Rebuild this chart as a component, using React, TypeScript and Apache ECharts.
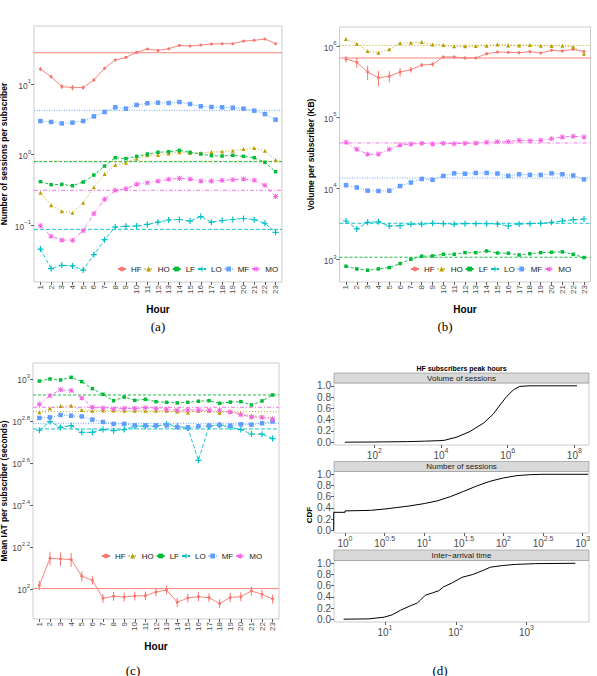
import React, { useEffect, useRef } from "react";
import * as echarts from "echarts";

// ---------- data ----------
const hours = [1, 2, 3, 4, 5, 6, 7, 8, 9, 10, 11, 12, 13, 14, 15, 16, 17, 18, 19, 20, 21, 22, 23];
const groups = ["HF", "HO", "LF", "LO", "MF", "MO"];

// (a) number of sessions per subscriber
const sessHF = [16.3, 12.7, 9.2, 8.9, 8.9, 11.4, 16.7, 21.9, 23.8, 28, 31.3, 29.9, 31.6, 35.2, 34.5, 35.6, 36.8, 37.2, 37.2, 40.5, 41.5, 43.3, 37.2];
const sessHFErr = [1.1, 0.7, 0.7, 0.8, 0.6, 0.64, 0.75, 0.7, 0.8, 0.9, 1.0, 1.0, 1.0, 1.2, 1.1, 1.2, 1.2, 1.2, 1.2, 1.3, 1.4, 1.4, 1.2];
const sessHO = [0.29, 0.192, 0.158, 0.151, 0.209, 0.345, 0.532, 0.714, 0.771, 0.878, 0.979, 0.989, 1.04, 1.08, 1.06, 1.06, 1.09, 1.11, 1.14, 1.2, 1.24, 1.14, 0.841];
const sessLF = [0.415, 0.376, 0.38, 0.364, 0.41, 0.515, 0.69, 0.907, 0.878, 0.947, 1.02, 1.08, 1.1, 1.15, 1.08, 1.02, 0.968, 0.957, 0.979, 0.947, 0.907, 0.78, 0.574];
const sessLO = [0.0462, 0.0244, 0.0272, 0.0266, 0.0233, 0.0385, 0.0627, 0.0946, 0.0968, 0.0978, 0.103, 0.111, 0.119, 0.121, 0.115, 0.133, 0.111, 0.117, 0.121, 0.125, 0.12, 0.107, 0.0796];
const sessMF = [2.99, 2.9, 2.77, 2.84, 2.99, 3.48, 4.02, 4.68, 4.48, 5.05, 5.33, 5.44, 5.38, 5.56, 5.21, 4.83, 4.73, 4.68, 4.62, 4.48, 4.2, 3.76, 3.13];
const sessMO = [0.099, 0.0698, 0.062, 0.0616, 0.084, 0.146, 0.233, 0.313, 0.33, 0.38, 0.402, 0.424, 0.448, 0.462, 0.452, 0.424, 0.424, 0.433, 0.443, 0.452, 0.433, 0.368, 0.255];
const sessMeans = [27.7, 0.806, 0.796, 0.0877, 4.24, 0.313];

// (b) volume per subscriber (KB)
const volHF = [657000, 590000, 431000, 359000, 375000, 431000, 465000, 541000, 553000, 701000, 701000, 679000, 679000, 780000, 824000, 815000, 806000, 833000, 798000, 870000, 850000, 898000, 840000];
const volHFErr = [72000, 94000, 100000, 86000, 66000, 60000, 42000, 36000, 37000, 31000, 31000, 30000, 30000, 34000, 36000, 36000, 35000, 37000, 35000, 38000, 37000, 40000, 37000];
const volHO = [1250000, 1080000, 850000, 806000, 898000, 1100000, 1110000, 1140000, 1050000, 1030000, 995000, 990000, 1000000, 1010000, 1050000, 1020000, 1020000, 1030000, 1010000, 1000000, 1010000, 970000, 780000];
const volLF = [807, 741, 710, 741, 774, 880, 1013, 1117, 1128, 1189, 1189, 1256, 1256, 1324, 1240, 1230, 1164, 1210, 1256, 1270, 1285, 1189, 1070];
const volLO = [3490, 2700, 3340, 3400, 2970, 3000, 3140, 3140, 3240, 3200, 3140, 3200, 3200, 3200, 3170, 2970, 3170, 3200, 3240, 3340, 3490, 3630, 3720];
const volMF = [11100, 10300, 9300, 9200, 9300, 10800, 12100, 13600, 13200, 15000, 16300, 16100, 16500, 16500, 16200, 15000, 15800, 15500, 15500, 16300, 15800, 15200, 13400];
const volMO = [44400, 35400, 30100, 30500, 35400, 40700, 42000, 43000, 42000, 43000, 42500, 43000, 43500, 44400, 45400, 45400, 47400, 46900, 47400, 50000, 52800, 54000, 52800];
const volMeans = [679000, 1020000, 1080, 3240, 14000, 43500];

// (c) mean IAT per subscriber (seconds)
const iatHF = [104.1, 140, 139, 138, 115, 110, 90.3, 92.3, 91.6, 92.6, 92.9, 96.8, 98.9, 86.4, 90.6, 91.9, 90.9, 85.2, 91.2, 91.9, 97.8, 94.3, 89.6];
const iatHFErr = [5.4, 10.5, 10.5, 10.5, 6.4, 5, 4.4, 4.5, 4.5, 4.5, 4.5, 4.7, 4.8, 4.2, 4.4, 4.5, 4.4, 4.2, 4.5, 4.5, 4.8, 4.6, 4.4];
const iatHO = [694, 724, 743, 747, 711, 706, 708, 708, 706, 705, 705, 705, 706, 699, 692, 705, 705, 690, 699, 685, 668, 662, 650];
const iatLF = [977, 1000, 989, 1018, 971, 899, 845, 788, 820, 791, 800, 780, 774, 769, 774, 783, 788, 766, 776, 780, 752, 786, 839];
const iatLO = [570, 627, 588, 600, 557, 557, 574, 567, 574, 595, 595, 595, 611, 595, 584, 410, 595, 604, 590, 574, 547, 546, 520];
const iatMF = [652, 656, 674, 668, 663, 640, 624, 611, 611, 601, 601, 601, 601, 590, 588, 595, 600, 604, 600, 608, 606, 615, 628];
const iatMO = [757, 833, 889, 880, 812, 733, 728, 720, 724, 724, 729, 724, 720, 710, 712, 712, 710, 710, 697, 676, 659, 656, 645];
const iatMeans = [100.4, 699, 839, 578, 615, 733];

// (d) CDFs for HF subscribers at peak hours
const cdfVolX = [13, 100, 1000, 3200, 10000, 13000, 30000, 74000, 190000, 370000, 590000, 930000, 1500000, 2300000, 4700000, 120000000];
const cdfVolY = [0, 0.003, 0.01, 0.018, 0.028, 0.035, 0.09, 0.19, 0.34, 0.5, 0.66, 0.81, 0.93, 0.99, 1.0, 1.0];
const cdfNumX = [0.72, 0.72, 1, 1, 2.1, 3.2, 4.5, 6.6, 10, 14.5, 21.4, 31.6, 45.7, 67.6, 100, 148, 219, 316, 1175];
const cdfNumY = [0, 0.32, 0.32, 0.345, 0.355, 0.38, 0.405, 0.435, 0.476, 0.524, 0.6, 0.696, 0.79, 0.875, 0.935, 0.976, 0.994, 1.0, 1.0];
const cdfIatX = [2.6, 5.9, 9.7, 12.6, 16.6, 21.9, 28.6, 31.6, 37.2, 46.8, 57.5, 67.6, 89.1, 123, 174, 240, 309, 457, 692, 1349, 4898];
const cdfIatY = [0, 0.006, 0.036, 0.078, 0.16, 0.23, 0.29, 0.34, 0.43, 0.47, 0.51, 0.58, 0.65, 0.75, 0.8, 0.87, 0.93, 0.96, 0.98, 0.994, 1.0];

const cdfTicks = [0, 0.2, 0.4, 0.6, 0.8, 1.0];

// ---------- styles ----------
const FONT = "Liberation Sans, Arial, sans-serif";
const TXT = "#4d4d4d";
const groupColors = ["#F8766D", "#B79F00", "#00BA38", "#00BFC4", "#619CFF", "#F564E3"];
const dashes: any[] = ["solid", [1, 2], [3, 2], [4, 2], [1, 1.5], [4, 2, 1, 2]];
const PLUS = "path://M2,0H3V2H5V3H3V5H2V3H0V2H2Z";
const STAR =
  "path://M2,0H3V2H5V3H3V5H2V3H0V2H2Z M0.5,0L2.5,2L4.5,0L5,0.5L3,2.5L5,4.5L4.5,5L2.5,3L0.5,5L0,4.5L2,2.5L0,0.5Z";
const symbols = ["circle", "triangle", "rect", PLUS, "rect", STAR];
const symSizes = [3, 4, 3.5, 6, 4.5, 5];
const X_MIN = 0.4;
const X_MAX = 23.6;

const supLabel = (v: number) => {
  const e = Math.round(v * 10) / 10;
  const s = (e < 0 ? "\u2212" : "") + String(Math.abs(e));
  return `{b|10}{s|${s}}`;
};
const richSup = (base: number) => ({
  b: { fontSize: base, color: TXT, fontFamily: FONT, padding: [3, 0, 0, 0], verticalAlign: "bottom" },
  s: { fontSize: Math.round(base * 0.7), color: TXT, fontFamily: FONT, verticalAlign: "top" },
});

function groupSeries(gi: number, sets: number[][], means: number[]) {
  const out: any[] = [];
  groups.forEach((g, k) => {
    // reference (mean) line
    out.push({
      type: "line",
      xAxisIndex: gi,
      yAxisIndex: gi,
      silent: true,
      symbol: "none",
      showSymbol: false,
      z: 2,
      data: [
        [X_MIN, Math.log10(means[k])],
        [X_MAX, Math.log10(means[k])],
      ],
      itemStyle: { color: groupColors[k] },
      lineStyle: { color: groupColors[k], width: 0.9, type: dashes[k] },
    });
    out.push({
      type: "line",
      name: g,
      xAxisIndex: gi,
      yAxisIndex: gi,
      data: hours.map((h, i) => [h, Math.log10(sets[k][i])]),
      symbol: symbols[k],
      symbolSize: symSizes[k],
      showSymbol: true,
      itemStyle: { color: groupColors[k] },
      lineStyle: { color: groupColors[k], width: 0.9, type: dashes[k] },
      z: 3,
    });
  });
  return out;
}

function errorSeries(gi: number, vals: number[], errs: number[]) {
  return {
    type: "custom",
    xAxisIndex: gi,
    yAxisIndex: gi,
    silent: true,
    z: 4,
    data: hours.map((h, i) => [h, Math.log10(vals[i] - errs[i]), Math.log10(vals[i] + errs[i])]),
    encode: { x: 0, y: [1, 2] },
    renderItem: (_p: any, api: any) => {
      const a = api.coord([api.value(0), api.value(1)]);
      const b = api.coord([api.value(0), api.value(2)]);
      return {
        type: "line",
        shape: { x1: a[0], y1: a[1], x2: b[0], y2: b[1] },
        style: { stroke: groupColors[0], lineWidth: 1 },
      };
    },
  };
}

const gridBase = {
  show: true,
  borderColor: "#cccccc",
  borderWidth: 1,
  backgroundColor: "#ffffff",
  containLabel: false,
  outerBoundsMode: "none",
};

const noLine = { show: false, onZero: false };

const hourAxis = (gi: number) => ({
  type: "value",
  gridIndex: gi,
  position: "bottom",
  min: X_MIN,
  max: X_MAX,
  name: "Hour",
  nameLocation: "middle",
  nameGap: 22,
  nameTextStyle: { fontFamily: FONT, fontWeight: "bold", fontSize: 10, color: "#000" },
  axisLine: noLine,
  splitLine: { show: false },
  axisTick: { show: true, customValues: hours, length: 3, lineStyle: { color: "#333", width: 0.8 } },
  axisLabel: { customValues: hours, rotate: 90, fontSize: 8, color: TXT, fontFamily: FONT, margin: 3 },
});

const logYAxis = (gi: number, min: number, max: number, ticks: number[], name: string, gap: number) => ({
  type: "value",
  gridIndex: gi,
  position: "left",
  min,
  max,
  name,
  nameLocation: "middle",
  nameGap: gap,
  nameTextStyle: { fontFamily: FONT, fontWeight: "bold", fontSize: 8.5, color: "#000" },
  axisLine: noLine,
  splitLine: { show: false },
  axisTick: { show: true, customValues: ticks, length: 3, lineStyle: { color: "#333", width: 0.8 } },
  axisLabel: { customValues: ticks, formatter: supLabel, rich: richSup(8.5), margin: 3 },
});

const cdfXAxis = (gi: number, min: number, max: number, ticks: number[]) => ({
  type: "value",
  gridIndex: gi,
  position: "bottom",
  min,
  max,
  axisLine: noLine,
  splitLine: { show: false },
  axisTick: { show: true, customValues: ticks, length: 3, lineStyle: { color: "#333", width: 0.8 } },
  axisLabel: { customValues: ticks, formatter: supLabel, rich: richSup(10), margin: 2 },
});

const cdfYAxis = (gi: number) => ({
  type: "value",
  gridIndex: gi,
  position: "left",
  min: -0.05,
  max: 1.05,
  axisLine: noLine,
  splitLine: { show: false },
  axisTick: { show: true, customValues: cdfTicks, length: 3, lineStyle: { color: "#333", width: 0.8 } },
  axisLabel: {
    customValues: cdfTicks,
    formatter: (v: number) => v.toFixed(1),
    fontSize: 10,
    color: TXT,
    fontFamily: FONT,
    margin: 3,
  },
});

const cdfSeries = (gi: number, xs: number[], ys: number[]) => ({
  type: "line",
  xAxisIndex: gi,
  yAxisIndex: gi,
  showSymbol: false,
  symbol: "none",
  silent: true,
  data: xs.map((x, i) => [Math.log10(x), ys[i]]),
  lineStyle: { color: "#000", width: 1 },
  itemStyle: { color: "#000" },
});

const legendAt = (left: number, top: number) => ({
  data: groups,
  left,
  top,
  orient: "horizontal",
  itemWidth: 8,
  itemHeight: 6,
  itemGap: 2,
  padding: 0,
  selectedMode: false,
  textStyle: { fontSize: 8, color: "#1a1a1a", fontFamily: FONT },
});

const txt = (x: number, y: number, text: string, font: string, rotation = 0, fill = "#000") => ({
  type: "text",
  x,
  y,
  rotation,
  silent: true,
  style: {
    text,
    font,
    fill,
    align: "center",
    verticalAlign: "middle",
    textAlign: "center",
    textVerticalAlign: "middle",
  },
});

const strip = (y: number, h: number, text: string) => [
  {
    type: "rect",
    silent: true,
    shape: { x: 334, y, width: 255, height: h },
    style: { fill: "#d9d9d9", stroke: "#8c8c8c", lineWidth: 0.6 },
  },
  txt(461.5, y + h / 2, text, `8px ${FONT}`, 0, "#1a1a1a"),
];

export default function App() {
  const ref = useRef<HTMLDivElement>(null);
  useEffect(() => {
    document.body.style.margin = "0";
    if (!ref.current) return;
    const chart = echarts.init(ref.current, null, { renderer: "svg" });
    const option: any = {
      animation: false,
      backgroundColor: "#ffffff",
      grid: [
        { ...gridBase, left: 34, top: 26, width: 248, height: 256 },
        { ...gridBase, left: 339.5, top: 27, width: 251, height: 255 },
        { ...gridBase, left: 33, top: 363, width: 246, height: 256 },
        { ...gridBase, left: 334, top: 383, width: 255, height: 62 },
        { ...gridBase, left: 334, top: 471.5, width: 255, height: 61.5 },
        { ...gridBase, left: 334, top: 560.5, width: 255, height: 61.5 },
      ],
      xAxis: [
        hourAxis(0),
        hourAxis(1),
        hourAxis(2),
        cdfXAxis(3, 0.79, 8.44, [2, 4, 6, 8]),
        cdfXAxis(4, -0.139, 3.08, [0, 0.5, 1, 1.5, 2, 2.5, 3]),
        cdfXAxis(5, 0.279, 3.883, [1, 2, 3]),
      ],
      yAxis: [
        logYAxis(0, -1.802, 1.821, [-1, 0, 1], "Number of sessions per subscriber", 25.5),
        logYAxis(1, 2.686, 6.267, [3, 4, 5, 6], "Volume per subscriber (KB)", 24),
        logYAxis(2, 1.857, 3.076, [2, 2.2, 2.4, 2.6, 2.8, 3], "Mean IAT per subscriber (seconds)", 24.5),
        cdfYAxis(3),
        cdfYAxis(4),
        cdfYAxis(5),
      ],
      legend: [legendAt(117, 265), legendAt(410, 265), legendAt(101, 552)],
      series: [
        ...groupSeries(0, [sessHF, sessHO, sessLF, sessLO, sessMF, sessMO], sessMeans),
        errorSeries(0, sessHF, sessHFErr),
        ...groupSeries(1, [volHF, volHO, volLF, volLO, volMF, volMO], volMeans),
        errorSeries(1, volHF, volHFErr),
        ...groupSeries(2, [iatHF, iatHO, iatLF, iatLO, iatMF, iatMO], iatMeans),
        errorSeries(2, iatHF, iatHFErr),
        cdfSeries(3, cdfVolX, cdfVolY),
        cdfSeries(4, cdfNumX, cdfNumY),
        cdfSeries(5, cdfIatX, cdfIatY),
      ],
      graphic: [
        txt(158, 326, "(a)", "13px Liberation Serif, serif"),
        txt(445, 326, "(b)", "13px Liberation Serif, serif"),
        txt(133, 670, "(c)", "13px Liberation Serif, serif"),
        txt(440, 670, "(d)", "13px Liberation Serif, serif"),
        txt(461.5, 368.5, "HF subscribers peak hours", `bold 7px ${FONT}`),
        ...strip(373, 10, "Volume of sessions"),
        ...strip(461.5, 10, "Number of sessions"),
        ...strip(550, 10.5, "Inter\u2212arrival time"),
        txt(309, 515, "CDF", `bold 8px ${FONT}`, Math.PI / 2),
      ],
    };
    chart.setOption(option);
    return () => chart.dispose();
  }, []);
  return (
    <div
      ref={ref}
      style={{ position: "absolute", left: 0, top: 0, width: 597, height: 676, background: "#fff" }}
    />
  );
}
